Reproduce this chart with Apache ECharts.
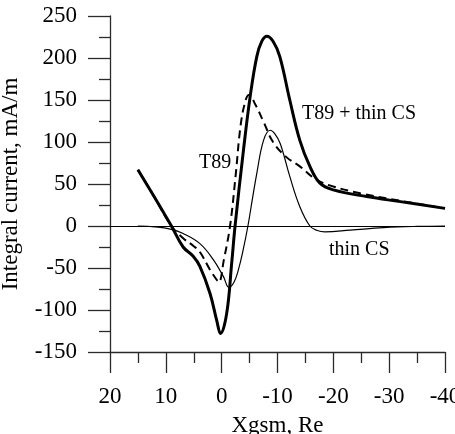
<!DOCTYPE html>
<html>
<head>
<meta charset="utf-8">
<script src="https://cdn.jsdelivr.net/npm/echarts@6/dist/echarts.min.js"></script>
<style>
html,body{margin:0;padding:0;background:#fff;}
#c{width:455px;height:434px;}
</style>
</head>
<body>
<div id="c"></div>
<script>
// X (Re) and integral current (mA/m)
var xTotal = [15, 12, 9, 6.9, 5.1, 3.9, 2.1, 0.9, 0.2, -0.9, -1.8, -2.4, -3.9, -5.1, -6.3, -7.2, -8.1, -9.2, -10.4, -12.2, -14, -15.8, -17.6, -20, -26, -32, -40];
var yTotal = [67, 34, 0, -25, -36, -48, -80, -112, -128, -104, -44, 0, 90, 154, 202, 220, 226, 220, 202, 150, 102, 71, 51, 43, 35, 29, 21];

var xT89 = [15, 12, 9, 7, 5, 3.9, 2.1, 0.9, 0.5, -0.4, -1.5, -2.5, -3.4, -4.3, -4.9, -6, -7.5, -9.2, -11.6, -14, -17, -20, -24.8, -32, -40];
var yT89 = [67, 34, 0, -14, -24, -31, -52, -64, -67, -40, 0, 60, 120, 150, 156, 145, 124, 100, 82, 71, 55, 47, 39, 30, 21];

var xThin = [15, 12, 9, 6.9, 3.9, 1.5, -0.3, -1.3, -2.2, -3, -3.8, -4.7, -5.5, -6.3, -7.5, -8.7, -9.5, -10.5, -12.2, -14, -15.8, -17, -18.5, -23, -29, -35, -40];
var yThin = [0, -1, -4, -9, -21, -40, -60, -73, -67, -52, -30, 0, 32, 63, 102, 114, 110, 98, 59, 23, 0, -5, -7, -5, -2, -0.5, 0];

var xTicks = {min: -40, max: 20, interval: 10};
var yTicks = {min: -150, max: 250, interval: 50};

var labels = [
  {text: 'T89 + thin CS', left: 302, top: 104},
  {text: 'T89', left: 199, top: 153},
  {text: 'thin CS', left: 329, top: 240}
];

function pairs(xs, ys) { return xs.map(function (x, i) { return [x, ys[i]]; }); }

var FONT = 'Liberation Serif';
var AX = '#2a2a2a';

var chart = echarts.init(document.getElementById('c'), null, {renderer: 'canvas'});
chart.setOption({
  backgroundColor: '#fff',
  animation: false,
  grid: {left: 110, right: 10, top: 16, bottom: 82, containLabel: false, outerBoundsMode: 'none'},
  xAxis: {
    type: 'value', inverse: true,
    min: xTicks.min, max: xTicks.max, interval: xTicks.interval,
    name: 'Xgsm, Re', nameLocation: 'middle', nameGap: 62,
    nameTextStyle: {fontFamily: FONT, fontSize: 23, color: '#000'},
    axisLine: {show: true, onZero: false, lineStyle: {color: AX, width: 1.3}},
    axisTick: {show: true, length: 21, lineStyle: {color: AX, width: 1.3}},
    minorTick: {show: true, splitNumber: 2, length: 11, lineStyle: {color: AX, width: 1.3}},
    axisLabel: {fontFamily: FONT, fontSize: 23, color: '#000', margin: 33, showMaxLabel: true, showMinLabel: true, hideOverlap: false},
    splitLine: {show: false}
  },
  yAxis: {
    type: 'value',
    min: yTicks.min, max: yTicks.max, interval: yTicks.interval,
    name: 'Integral current, mA/m', nameLocation: 'middle', nameGap: 88,
    nameTextStyle: {fontFamily: FONT, fontSize: 23, color: '#000'},
    axisLine: {show: true, onZero: false, lineStyle: {color: AX, width: 1.3}},
    axisTick: {show: true, length: 22, lineStyle: {color: AX, width: 1.3}},
    minorTick: {show: true, splitNumber: 2, length: 11, lineStyle: {color: AX, width: 1.3}},
    axisLabel: {fontFamily: FONT, fontSize: 23, color: '#000', margin: 33},
    splitLine: {show: false}
  },
  series: [
    {
      type: 'line', name: 'thin CS', data: pairs(xThin, yThin), smooth: 0.4,
      showSymbol: false, lineStyle: {color: '#000', width: 1.2},
      markLine: {silent: true, symbol: 'none', label: {show: false},
        lineStyle: {color: '#000', width: 1, type: 'solid'}, data: [{yAxis: 0}]}
    },
    {
      type: 'line', name: 'T89', data: pairs(xT89, yT89), smooth: 0.4,
      showSymbol: false, lineStyle: {color: '#000', width: 2, type: [8, 5]}
    },
    {
      type: 'line', name: 'T89 + thin CS', data: pairs(xTotal, yTotal), smooth: 0.4,
      showSymbol: false, lineStyle: {color: '#000', width: 3}
    }
  ],
  graphic: labels.map(function (l) {
    return {type: 'text', left: l.left, top: l.top,
      style: {text: l.text, fill: '#000', font: '20px "Liberation Serif"'}};
  })
});
</script>
</body>
</html>
